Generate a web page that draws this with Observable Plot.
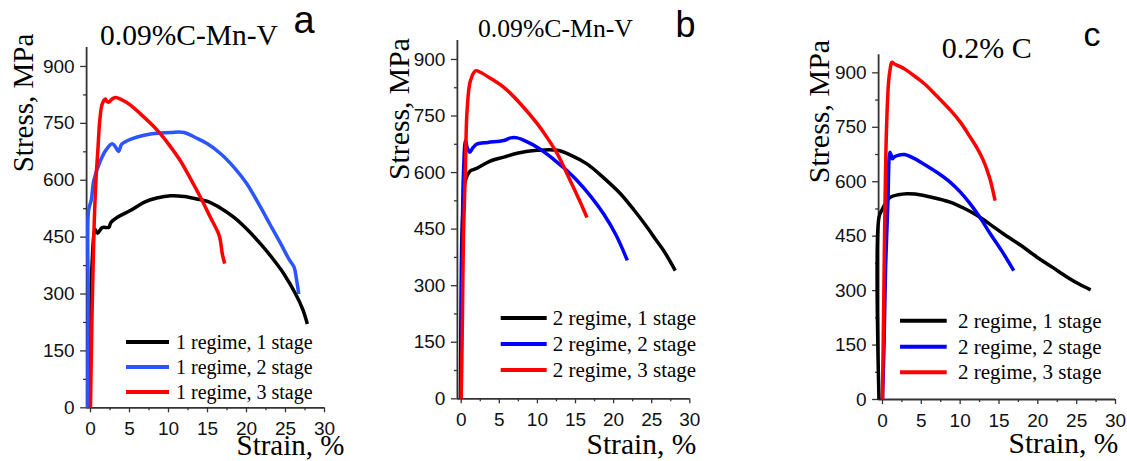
<!DOCTYPE html>
<html><head><meta charset="utf-8">
<script src="https://cdn.jsdelivr.net/npm/d3@7"></script>
<script src="https://cdn.jsdelivr.net/npm/@observablehq/plot@0.6"></script>
<style>
body{margin:0;background:#fff}
#root{position:relative;width:1127px;height:461px;overflow:hidden;background:#fff}
.panel{position:absolute;top:0}
#overlay{position:absolute;left:0;top:0;pointer-events:none}
</style></head>
<body><div id="root"></div>
<script>
// ---------- data ----------
const xTicks = [0, 5, 10, 15, 20, 25, 30];
const yTicks = [0, 150, 300, 450, 600, 750, 900];
const titles = ["0.09%C-Mn-V", "0.09%C-Mn-V", "0.2% C"];
const letters = ["a", "b", "c"];
const legendA = ["1 regime, 1 stage", "1 regime, 2 stage", "1 regime, 3 stage"];
const legendBC = ["2 regime, 1 stage", "2 regime, 2 stage", "2 regime, 3 stage"];
const yLabel = "Stress, MPa";
const xLabel = "Strain, %";

// panel a  [strain %, stress MPa]
const a1 = [[-0.2,0],[0,230],[0.2,380],[0.6,470],[0.9,460],[1.5,475],[2.35,476],[2.6,488],[3.5,503],[5.1,520],[7,543],[8.5,553],[10.3,559],[12,557],[14,549],[15,544],[16.8,525],[18.4,502],[20.1,470],[21.8,432],[23.3,395],[24.8,353],[26.3,300],[27.2,260],[27.8,221]];
const a2 = [[-0.35,0],[-0.3,300],[-0.25,520],[0.1,548],[0.43,600],[1.28,652],[2,680],[2.78,696],[3.2,688],[3.6,676],[4.0,695],[4.7,704],[6,714],[7.7,722],[10.3,726],[12,726],[13.5,712],[15,696],[16.8,668],[18.4,634],[20,592],[21.8,529],[23,484],[24.4,432],[25.5,390],[26.1,371],[26.4,340],[26.7,300]];
const a3 = [[0,0],[0.2,250],[0.43,458],[0.7,600],[0.94,678],[1.2,760],[1.5,801],[1.9,814],[2.1,808],[2.35,806],[2.8,815],[3.2,818],[3.85,814],[5,800],[6.4,775],[7.7,750],[8.97,722],[10.2,690],[11.5,652],[12.8,605],[14.1,555],[15.3,505],[16.5,454],[16.9,406],[17.2,380]];
// panel b
const b1 = [[-0.1,0],[0,300],[0.1,437],[0.3,520],[0.55,579],[1.22,605],[1.6,608],[2.1,612],[3,622],[4,632],[5.6,641],[7.5,652],[9.97,659],[12.6,659],[14.5,645],[16.5,623],[18.7,586],[20.9,544],[22.7,500],[24.4,455],[25.5,423],[26.6,392],[28.1,340]];
const b2 = [[0,0],[0.05,250],[0.15,450],[0.3,600],[0.56,685],[0.8,665],[1.14,654],[1.5,665],[2.1,676],[3.5,680],[5.6,685],[6.5,692],[7.35,692],[8.6,682],[9.97,667],[11.3,648],[12.6,627],[13.9,605],[15.2,579],[17,537],[18.7,490],[20.3,435],[21.8,367]];
const b3 = [[0,0],[0.15,200],[0.3,437],[0.55,614],[0.77,764],[1.2,843],[1.88,870],[2.5,866],[4,848],[5.6,826],[7.8,782],[10,729],[11.3,692],[12.6,650],[14.3,579],[15.5,527],[16.5,481]];
// panel c
const c1 = [[-0.45,0],[-0.45,502],[0,525],[0.5,545],[1,557],[2,564],[3.14,567],[4.2,566],[5.3,562],[7,554],[8.7,544],[10.5,527],[12.2,507],[13.9,482],[15.6,456],[17.8,425],[19.9,392],[21.9,364],[23.8,337],[25.3,318],[26.8,302]];
const c2 = [[0,0],[0.2,150],[0.4,364],[0.7,548],[0.96,681],[1.1,675],[1.26,663],[1.5,668],[1.9,672],[2.8,675],[4,665],[5.3,649],[7,626],[8.7,599],[10,572],[11.3,539],[12.6,500],[13.9,456],[15.4,408],[16.9,355]];
const c3 = [[0,0],[0.15,250],[0.27,456],[0.5,732],[0.77,870],[1.0,912],[1.2,929],[1.5,925],[1.97,920],[2.8,911],[4,893],[5.4,870],[7,836],[8.8,796],[10,765],[11.3,723],[12.2,692],[13,658],[13.8,610],[14.5,548]];

const colorsA = ["#000000", "#2b55ff", "#ff0000"];
const colorsBC = ["#000000", "#0000ff", "#ff0000"];
const xDomain = [-0.5, 30];
const yDomain = [0, 950];

// ---------- layout ----------
const panels = [
  {left:0, width:376, ml:86.1, mr:52, mt:47, mb:53.7, series:[a1,a2,a3], names:legendA, colors:colorsA,
   title:{x:100, y:45, fs:29.5}, letter:{x:293.5, y:33, fs:38},
   ylab:{x:33, y:103, fs:29}, xlab:{x:236.5, y:455, fs:29},
   leg:{x1:126, x2:169, tx:176, ys:[342,367,392], fs:20}},
  {left:376, width:376, ml:80.9, mr:62.7, mt:40.1, mb:62.7, series:[b1,b2,b3], names:legendBC, colors:colorsBC,
   title:{x:478, y:37.3, fs:25.7}, letter:{x:675.5, y:37.3, fs:36},
   ylab:{x:409, y:109, fs:29.7}, xlab:{x:586.5, y:454, fs:29.5},
   leg:{x1:500.7, x2:546.7, tx:552.7, ys:[318,344,370], fs:21}},
  {left:752, width:375, ml:126.1, mr:12, mt:54.2, mb:62, series:[c1,c2,c3], names:legendBC, colors:colorsBC,
   title:{x:941.7, y:58.3, fs:30}, letter:{x:1083.6, y:46, fs:34},
   ylab:{x:829.3, y:111.5, fs:30}, xlab:{x:1008.5, y:453, fs:29.5},
   leg:{x1:900, x2:946.7, tx:958, ys:[320.7,346.7,372.3], fs:21}}
];

const root = document.getElementById("root");
const axisColor = "#333";

panels.forEach(p => {
  const rows = [];
  p.series.forEach((s, i) => s.forEach(([x, y]) => rows.push({strain:x, stress:y, name:p.names[i]})));
  const minorX = d3.range(2.5, 30, 5);
  const minorY = d3.range(75, 950, 150);
  const chart = Plot.plot({
    width: p.width, height: 461,
    marginLeft: p.ml, marginRight: p.mr, marginTop: p.mt, marginBottom: p.mb,
    x: {domain: xDomain},
    y: {domain: yDomain},
    color: {domain: p.names, range: p.colors},
    style: {fontFamily: "'Liberation Sans', Arial, sans-serif", fontSize: "19px", color: "#111", background: "transparent", overflow: "visible"},
    marks: [
      Plot.axisX({ticks: xTicks, tickSize: 5, tickPadding: 9, label: null, stroke: axisColor, strokeWidth: 1.3}),
      Plot.axisX({ticks: minorX, tickSize: 3, text: null, label: null, stroke: axisColor, strokeWidth: 1.3}),
      Plot.axisY({ticks: yTicks, tickSize: 6, tickPadding: 6, label: null, stroke: axisColor, strokeWidth: 1.3}),
      Plot.axisY({ticks: minorY, tickSize: 3, text: null, label: null, stroke: axisColor, strokeWidth: 1.3}),
      Plot.ruleX([xDomain[0]], {stroke: axisColor, strokeWidth: 1.8}),
      Plot.ruleY([yDomain[0]], {stroke: axisColor, strokeWidth: 1.8}),
      Plot.line(rows, {x: "strain", y: "stress", z: "name", stroke: "name", strokeWidth: 3.5, curve: "catmull-rom", strokeLinejoin: "round", strokeLinecap: "butt"})
    ]
  });
  chart.classList.add("panel");
  chart.style.left = p.left + "px";
  root.appendChild(chart);
});

// ---------- text overlay (titles, axis labels, legends) ----------
const svg = d3.select(root).append("svg").attr("id", "overlay").attr("width", 1127).attr("height", 461);
const serif = "'Liberation Serif', 'Times New Roman', serif";
const sans = "'Liberation Sans', Arial, sans-serif";
panels.forEach((p, k) => {
  svg.append("text").attr("x", p.title.x).attr("y", p.title.y).attr("font-family", serif).attr("font-size", p.title.fs).text(titles[k]);
  svg.append("text").attr("x", p.letter.x).attr("y", p.letter.y).attr("font-family", sans).attr("font-size", p.letter.fs).text(letters[k]);
  svg.append("text").attr("transform", `translate(${p.ylab.x},${p.ylab.y}) rotate(-90)`).attr("text-anchor", "middle")
    .attr("font-family", serif).attr("font-size", p.ylab.fs).text(yLabel);
  svg.append("text").attr("x", p.xlab.x).attr("y", p.xlab.y).attr("font-family", serif).attr("font-size", p.xlab.fs).text(xLabel);
  p.names.forEach((n, i) => {
    const y = p.leg.ys[i];
    svg.append("line").attr("x1", p.leg.x1).attr("x2", p.leg.x2).attr("y1", y).attr("y2", y)
      .attr("stroke", p.colors[i]).attr("stroke-width", 4);
    svg.append("text").attr("x", p.leg.tx).attr("y", y + 7).attr("font-family", serif).attr("font-size", p.leg.fs).text(n);
  });
});
</script></body></html>
